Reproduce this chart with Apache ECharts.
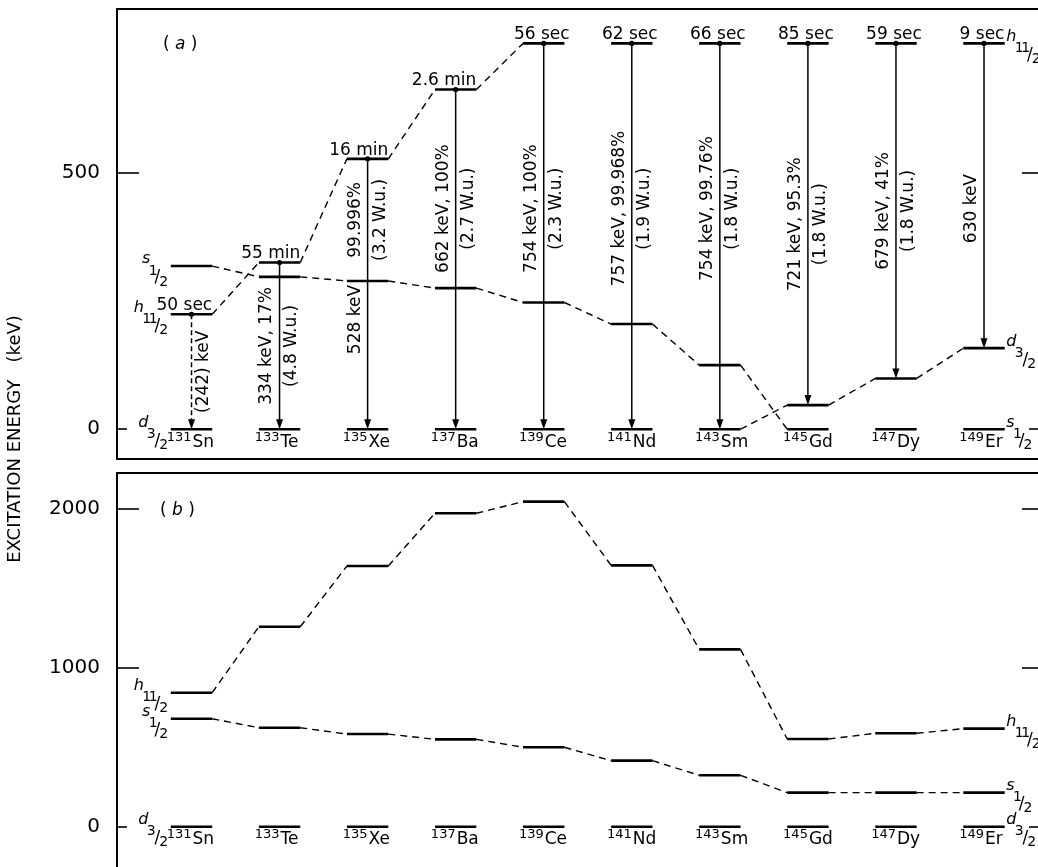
<!DOCTYPE html>
<html><head><meta charset="utf-8">
<script src="https://cdn.jsdelivr.net/npm/echarts@6/dist/echarts.min.js"></script>
<style>html,body{margin:0;padding:0;background:#fff}#c{width:1038px;height:867px}</style>
</head><body><div id="c"></div>
<script>
// ---------------- data ----------------
const massNumbers = [131, 133, 135, 137, 139, 141, 143, 145, 147, 149];
const elements    = ['Sn', 'Te', 'Xe', 'Ba', 'Ce', 'Nd', 'Sm', 'Gd', 'Dy', 'Er'];

// panel (a): measured level energies (keV)
const aH11 = [224, 325, 527, 662, 752, 752, 752, 752, 752, 752];
const aS12 = [318, 297, 289, 275, 247, 205, 125, 0, 0, 0];
const aD32 = [0, 0, 0, 0, 0, 0, 0, 47, 99, 158];
const halfLives  = ['50 sec', '55 min', '16 min', '2.6 min', '56 sec', '62 sec', '66 sec', '85 sec', '59 sec', '9 sec'];
const gammaLeft  = ['', '334 keV, 17%', '99.996%', '662 keV, 100%', '754 keV, 100%', '757 keV, 99.968%', '754 keV, 99.76%', '721 keV, 95.3%', '679 keV, 41%', '630 keV'];
const gammaRight = ['(242) keV', '(4.8 W.u.)', '(3.2 W.u.)', '(2.7 W.u.)', '(2.3 W.u.)', '(1.9 W.u.)', '(1.8 W.u.)', '(1.8 W.u.)', '(1.8 W.u.)', ''];
const gammaBelow = ['', '', '528 keV', '', '', '', '', '', '', ''];
const gammaObserved = [false, true, true, true, true, true, true, true, true, true];

// panel (b): calculated level energies (keV)
const bH11 = [842, 1256, 1638, 1969, 2042, 1642, 1114, 551, 587, 616];
const bS12 = [678, 622, 582, 549, 499, 415, 323, 214, 214, 214];
const bD32 = [0, 0, 0, 0, 0, 0, 0, 0, 0, 0];

const tickLabelsA = [0, 500];
const tickLabelsB = [0, 1000, 2000];
const spinNames = { h11: ['h', '11', '2'], s12: ['s', '1', '2'], d32: ['d', '3', '2'] };
const chainsA = [{ key: 'h11', from: 0, to: 4 }, { key: 's12', from: 0, to: 7 }, { key: 'd32', from: 6, to: 9 }];
const chainsB = [{ key: 'h11', from: 0, to: 9 }, { key: 's12', from: 0, to: 9 }];
const panelNames = ['a', 'b'];
const axisTitle = 'EXCITATION ENERGY   (keV)';

// ---------------- style ----------------
const INK = '#000';
const FAM = "'DejaVu Sans'";
const HALF = 0.47;          // half width of a level bar, in mass units
const LEVEL_W = 2.6;
const LABEL_MAX_E = 430;
const X_MIN = 129.308, X_MAX = 150.226;
const mctx = document.createElement('canvas').getContext('2d');
function tw(t, font) { mctx.font = font; return mctx.measureText(t).width; }

function txt(text, x, y, font, align, vAlign, rotation) {
  const el = { type: 'text', x: x, y: y, style: { text: text, x: 0, y: 0, font: font, fill: INK, align: align, verticalAlign: vAlign } };
  if (rotation) el.rotation = rotation;
  return el;
}
const STEP_ONE = 6.5, STEP_DIGIT = 8.5;
function digitRun(str, x, yMid, font, out) {
  let cx = x;
  for (const c of str) {
    out.push(txt(c, cx, yMid, font, 'left', 'middle'));
    cx += c === '1' ? STEP_ONE : STEP_DIGIT;
  }
  return cx;
}
function runWidth(str) { let w = 0; for (const c of str) w += c === '1' ? STEP_ONE : STEP_DIGIT; return w; }

function spinLabel(key, px, py, side, out) {
  const [L, num, den] = spinNames[key];
  const fL = 'italic 16px ' + FAM, fN = '14px ' + FAM, fS = '17px ' + FAM;
  const wL = tw(L, fL);
  const total = wL - 1.5 + runWidth(num) + 4 + runWidth(den);
  const bx = side === 'left' ? px - 3 - total : px + 1.5;
  out.push(txt(L, bx, py - 2 - 0.3 * 16, fL, 'left', 'middle'));
  const nEnd = digitRun(num, bx + wL - 1.5, py + 9 - 0.3 * 14, fN, out);
  const sx = nEnd + 2;
  out.push(txt('/', sx, py + 12, fS, 'center', 'middle'));
  digitRun(den, sx + 2, py + 20 - 0.3 * 14, fN, out);
}

const panels = [
  { levels: { h11: aH11, s12: aS12, d32: aD32 }, chains: chainsA, decays: true },
  { levels: { h11: bH11, s12: bS12, d32: bD32 }, chains: chainsB, decays: false }
];

function makeRender(panel) {
  return function (params, api) {
    const i = params.dataIndex;
    const m = massNumbers[i];
    const P = (x, e) => api.coord([x, e]);
    const ch = [];
    const keys = ['h11', 's12', 'd32'];
    keys.forEach(k => {
      const e = panel.levels[k][i];
      const a = P(m - HALF, e), b = P(m + HALF, e);
      ch.push({ type: 'line', shape: { x1: a[0], y1: a[1], x2: b[0], y2: b[1] }, style: { stroke: INK, lineWidth: LEVEL_W } });
    });
    panel.chains.forEach(c => {
      if (i >= c.from && i < c.to) {
        const lv = panel.levels[c.key];
        const a = P(m + HALF, lv[i]), b = P(massNumbers[i + 1] - HALF, lv[i + 1]);
        ch.push({ type: 'line', shape: { x1: a[0], y1: a[1], x2: b[0], y2: b[1] }, style: { stroke: INK, lineWidth: 1.4, lineDash: [7, 5] } });
      }
    });
    if (i === 0 || i === massNumbers.length - 1) {
      keys.forEach(k => {
        const e = panel.levels[k][i];
        if (i === 0) { const p = P(m - HALF, e); spinLabel(k, p[0], p[1], 'left', ch); }
        else { const p = P(m + HALF, e); spinLabel(k, p[0], p[1], 'right', ch); }
      });
    }
    const z = P(m, 0);
    ch.push(txt(String(m), z[0], z[1] + 12 - 0.3 * 13, '13px ' + FAM, 'right', 'middle'));
    ch.push(txt(elements[i], z[0] + 1, z[1] + 18 - 0.3 * 17, '17px ' + FAM, 'left', 'middle'));

    if (panel.decays) {
      const top = aH11[i], end = aD32[i], s = aS12[i];
      const t = P(m, top), b = P(m, end);
      const x = t[0];
      ch.push({ type: 'line', shape: { x1: x, y1: t[1], x2: x, y2: b[1] - 9 },
        style: { stroke: INK, lineWidth: 1.5, lineDash: gammaObserved[i] ? null : [5, 3] } });
      ch.push({ type: 'polygon', shape: { points: [[x, b[1]], [x - 3.5, b[1] - 10], [x + 3.5, b[1] - 10]] }, style: { fill: INK } });
      ch.push({ type: 'circle', shape: { cx: x, cy: t[1], r: 2.6 }, style: { fill: INK } });
      const hasOut = panel.chains.some(c => c.key === 'h11' && i >= c.from && i < c.to);
      const hf = '17px ' + FAM;
      if (hasOut) { const r = P(m + HALF, top); ch.push(txt(halfLives[i], r[0], r[1] - 8.5, hf, 'right', 'middle')); }
      else ch.push(txt(halfLives[i], x - 2, t[1] - 8.5, hf, 'center', 'middle'));
      const stop = (s > end && top - s > 150) ? s : end;
      const ce = Math.min((top + stop) / 2, LABEL_MAX_E);
      const cy = P(m, ce)[1];
      const gf = '17px ' + FAM;
      if (gammaLeft[i]) ch.push(txt(gammaLeft[i], x - 12.5, cy, gf, 'center', 'middle', Math.PI / 2));
      if (gammaRight[i]) ch.push(txt(gammaRight[i], x + 12.5, cy, gf, 'center', 'middle', Math.PI / 2));
      if (gammaBelow[i]) { const sp = P(m, s); ch.push(txt(gammaBelow[i], x - 12.5, sp[1] + 4, gf, 'right', 'middle', Math.PI / 2)); }
    }
    return { type: 'group', children: ch };
  };
}

const lineStyle = { color: INK, width: 2 };
function yAxesFor(gridIndex, min, max, labels) {
  const nonZero = labels.filter(v => v !== 0);
  const tickStyle = { color: INK, width: 1.6 };
  const common = { type: 'value', gridIndex: gridIndex, min: min, max: max, splitLine: { show: false }, axisLine: { show: false } };
  return [
    Object.assign({}, common, { position: 'left', axisLine: { show: true, onZero: false, lineStyle: lineStyle },
      axisTick: { show: true, inside: true, length: 22, customValues: nonZero, lineStyle: tickStyle },
      axisLabel: { show: true, customValues: labels, margin: 17, fontSize: 20, fontFamily: 'DejaVu Sans', color: INK, formatter: v => String(v) } }),
    Object.assign({}, common, { position: 'left', axisTick: { show: true, inside: true, length: 10, customValues: [0], lineStyle: tickStyle }, axisLabel: { show: false } }),
    Object.assign({}, common, { position: 'right', axisTick: { show: true, inside: true, length: 16, customValues: nonZero, lineStyle: tickStyle }, axisLabel: { show: false } }),
    Object.assign({}, common, { position: 'right', axisTick: { show: true, inside: true, length: 9, customValues: [0], lineStyle: tickStyle }, axisLabel: { show: false } })
  ];
}

const chart = echarts.init(document.getElementById('c'), null, { renderer: 'canvas' });
const xBase = { type: 'value', min: X_MIN, max: X_MAX, axisTick: { show: false }, axisLabel: { show: false }, splitLine: { show: false } };
chart.setOption({
  backgroundColor: '#fff',
  animation: false,
  grid: [
    { left: 117, top: 9, width: 921, height: 450, show: false, containLabel: false },
    { left: 117, top: 473, width: 921, height: 394, show: false, containLabel: false }
  ],
  xAxis: [
    Object.assign({ gridIndex: 0, position: 'bottom', axisLine: { show: true, onZero: false, lineStyle: lineStyle } }, xBase),
    Object.assign({ gridIndex: 0, position: 'top', axisLine: { show: true, onZero: false, lineStyle: lineStyle } }, xBase),
    Object.assign({ gridIndex: 1, position: 'top', axisLine: { show: true, onZero: false, lineStyle: lineStyle } }, xBase)
  ],
  yAxis: yAxesFor(0, -58, 819, tickLabelsA).concat(yAxesFor(1, -253, 2222, tickLabelsB)),
  series: panels.map((p, k) => ({
    type: 'custom', coordinateSystem: 'cartesian2d', xAxisIndex: k === 0 ? 0 : 2, yAxisIndex: k * 4,
    clip: false, silent: true,
    data: massNumbers.map((mm, i) => [mm, p.levels.h11[i]]),
    encode: { x: 0, y: 1 },
    renderItem: makeRender(p)
  })),
  graphic: [
    { type: 'text', x: 15, y: 439, rotation: Math.PI / 2, style: { text: axisTitle, font: '18px ' + FAM, fill: INK, align: 'center', verticalAlign: 'middle' } },
    { type: 'text', x: 163, y: 45, style: { text: '( {i|' + panelNames[0] + '} )', font: '17px ' + FAM, fill: INK, align: 'left', verticalAlign: 'middle', rich: { i: { fontStyle: 'italic', fontSize: 17, fontFamily: 'DejaVu Sans' } } } },
    { type: 'text', x: 160, y: 511, style: { text: '( {i|' + panelNames[1] + '} )', font: '17px ' + FAM, fill: INK, align: 'left', verticalAlign: 'middle', rich: { i: { fontStyle: 'italic', fontSize: 17, fontFamily: 'DejaVu Sans' } } } }
  ]
});
</script></body></html>
